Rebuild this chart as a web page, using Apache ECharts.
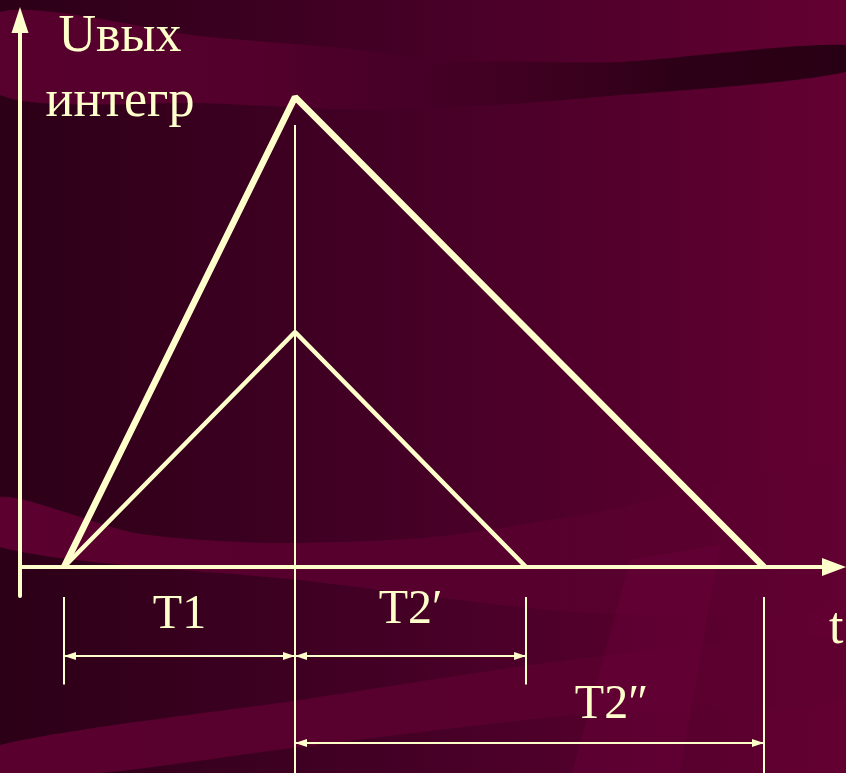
<!DOCTYPE html>
<html>
<head>
<meta charset="utf-8">
<script src="https://cdn.jsdelivr.net/npm/echarts@6/dist/echarts.min.js"></script>
<style>
  html, body { margin: 0; padding: 0; }
  #chart { width: 846px; height: 773px; }
</style>
</head>
<body>
<div id="chart"></div>
<script>
// integrator output for the big and the small input (t, U)
const bigRamp = [[0, 0], [1, 2], [3.03, 0]];
const smallRamp = [[0, 0], [1, 1], [2, 0]];

// extension lines under the t axis: position, top, bottom
const extT = [0, 1, 2, 3.03];
const extTop = [-0.128, 1.881, -0.128, -0.128];
const extBottom = [-0.5, -0.95, -0.5, -0.95];

// dimension arrows
const spanNames = ['T1', 'T2\u2032', 'T2\u2033'];
const spanFrom = [0, 1, 1];
const spanTo = [1, 2, 3.03];
const spanLevel = [-0.379, -0.379, -0.749];

const ink = '#ffffcc';
const serif = '"Liberation Serif", "DejaVu Serif", serif';

var chartDom = document.getElementById('chart');
var myChart = echarts.init(chartDom);
var option;

const extLines = extT.map(function (t, i) {
  return { coords: [[t, extTop[i]], [t, extBottom[i]]] };
});

const spanData = spanNames.map(function (n, i) {
  return { name: n, value: [spanFrom[i], spanTo[i], spanLevel[i]] };
});

// label placement per arrow: gap above the line, sideways shift
const labelGap = [17, 22, 14];
const labelShift = [0, 0, 82];

function renderSpan(params, api) {
  const a = api.coord([api.value(0), api.value(2)]);
  const b = api.coord([api.value(1), api.value(2)]);
  const hl = 12, hw = 4;
  const i = params.dataIndex;
  return {
    type: 'group',
    children: [
      { type: 'line', shape: { x1: a[0], y1: a[1], x2: b[0], y2: b[1] }, style: { stroke: ink, lineWidth: 2 } },
      { type: 'polygon', shape: { points: [[a[0], a[1]], [a[0] + hl, a[1] - hw], [a[0] + hl, a[1] + hw]] }, style: { fill: ink } },
      { type: 'polygon', shape: { points: [[b[0], b[1]], [b[0] - hl, b[1] - hw], [b[0] - hl, b[1] + hw]] }, style: { fill: ink } },
      {
        type: 'text',
        style: {
          text: spanNames[i],
          x: (a[0] + b[0]) / 2 + labelShift[i],
          y: a[1] - labelGap[i],
          align: 'center',
          verticalAlign: 'bottom',
          fill: ink,
          font: '48px ' + serif
        }
      }
    ]
  };
}

function band(points, fill) {
  return { type: 'polygon', z: -20, silent: true, shape: { points: points, smooth: 0.25 }, style: { fill: fill } };
}
function hfade(c, a0, a1, a2) {
  return new echarts.graphic.LinearGradient(0, 0, 1, 0, [
    { offset: 0, color: 'rgba(' + c + ',' + a0 + ')' },
    { offset: 0.6, color: 'rgba(' + c + ',' + a1 + ')' },
    { offset: 1, color: 'rgba(' + c + ',' + a2 + ')' }
  ]);
}

option = {
  backgroundColor: '#3a0020',
  animation: false,
  graphic: [
    {
      type: 'rect', z: -30, silent: true,
      shape: { x: 0, y: 0, width: 846, height: 773 },
      style: {
        fill: new echarts.graphic.LinearGradient(0, 0, 1, 0, [
          { offset: 0, color: '#2c0017' },
          { offset: 0.45, color: '#430025' },
          { offset: 1, color: '#630032' }
        ])
      }
    },
    band([[0, 12], [200, 36], [430, 62], [430, 106], [200, 103], [0, 95]], hfade('88,0,46', 1, 0.85, 0)),
    band([[420, 66], [620, 62], [846, 45], [846, 72], [620, 95], [420, 105]], hfade('40,0,20', 0, 0.9, 1)),
    band([[0, 497], [135, 533], [270, 543], [432, 537], [594, 513], [846, 467], [846, 600], [594, 613], [300, 580], [0, 547]], hfade('92,0,48', 1, 0.7, 0.2)),
    band([[0, 745], [300, 700], [594, 657], [846, 640], [846, 700], [594, 713], [300, 747], [100, 773], [0, 773]], hfade('92,0,48', 0.95, 0.8, 0.4)),
    { type: 'polygon', z: -20, silent: true, shape: { points: [[630, 560], [720, 545], [680, 773], [572, 773]] }, style: { fill: 'rgba(112,0,60,0.35)' } }
  ],
  grid: {
    left: 20,
    right: 12,
    top: 20,
    bottom: 177,
    containLabel: false,
    outerBoundsMode: 'none'
  },
  xAxis: {
    type: 'value',
    min: -0.1905,
    max: 3.333,
    name: 't',
    nameLocation: 'end',
    nameGap: -5,
    nameTextStyle: {
      color: ink, fontFamily: serif, fontSize: 52,
      align: 'left', verticalAlign: 'top', lineHeight: 52, padding: [36, 0, 0, 0]
    },
    axisLine: {
      onZero: true,
      symbol: ['none', 'triangle'],
      symbolSize: [18, 24],
      lineStyle: { color: ink, width: 4 }
    },
    axisTick: { show: false },
    axisLabel: { show: false },
    splitLine: { show: false }
  },
  yAxis: {
    type: 'value',
    min: -0.1234,
    max: 2.328,
    name: 'U\u0432\u044b\u0445\n\u0438\u043d\u0442\u0435\u0433\u0440',
    nameLocation: 'end',
    nameGap: 15,
    nameTextStyle: {
      color: ink, fontFamily: serif, fontSize: 52,
      align: 'center', verticalAlign: 'top', lineHeight: 65, padding: [0, 0, 0, 200]
    },
    axisLine: {
      onZero: false,
      symbol: ['none', 'triangle'],
      symbolSize: [17, 26],
      lineStyle: { color: ink, width: 4 }
    },
    axisTick: { show: false },
    axisLabel: { show: false },
    splitLine: { show: false }
  },
  series: [
    {
      type: 'line',
      data: bigRamp,
      symbol: 'none',
      lineStyle: { color: ink, width: 6.5 },
      z: 5
    },
    {
      type: 'line',
      data: smallRamp,
      symbol: 'none',
      lineStyle: { color: ink, width: 4.5 },
      z: 5
    },
    {
      type: 'lines',
      coordinateSystem: 'cartesian2d',
      clip: false,
      silent: true,
      symbol: ['none', 'none'],
      lineStyle: { color: ink, width: 2, opacity: 1 },
      data: extLines,
      z: 4
    },
    {
      type: 'custom',
      coordinateSystem: 'cartesian2d',
      clip: false,
      silent: true,
      encode: { x: [0, 1], y: 2 },
      renderItem: renderSpan,
      data: spanData,
      z: 4
    }
  ]
};

option && myChart.setOption(option);
</script>
</body>
</html>
